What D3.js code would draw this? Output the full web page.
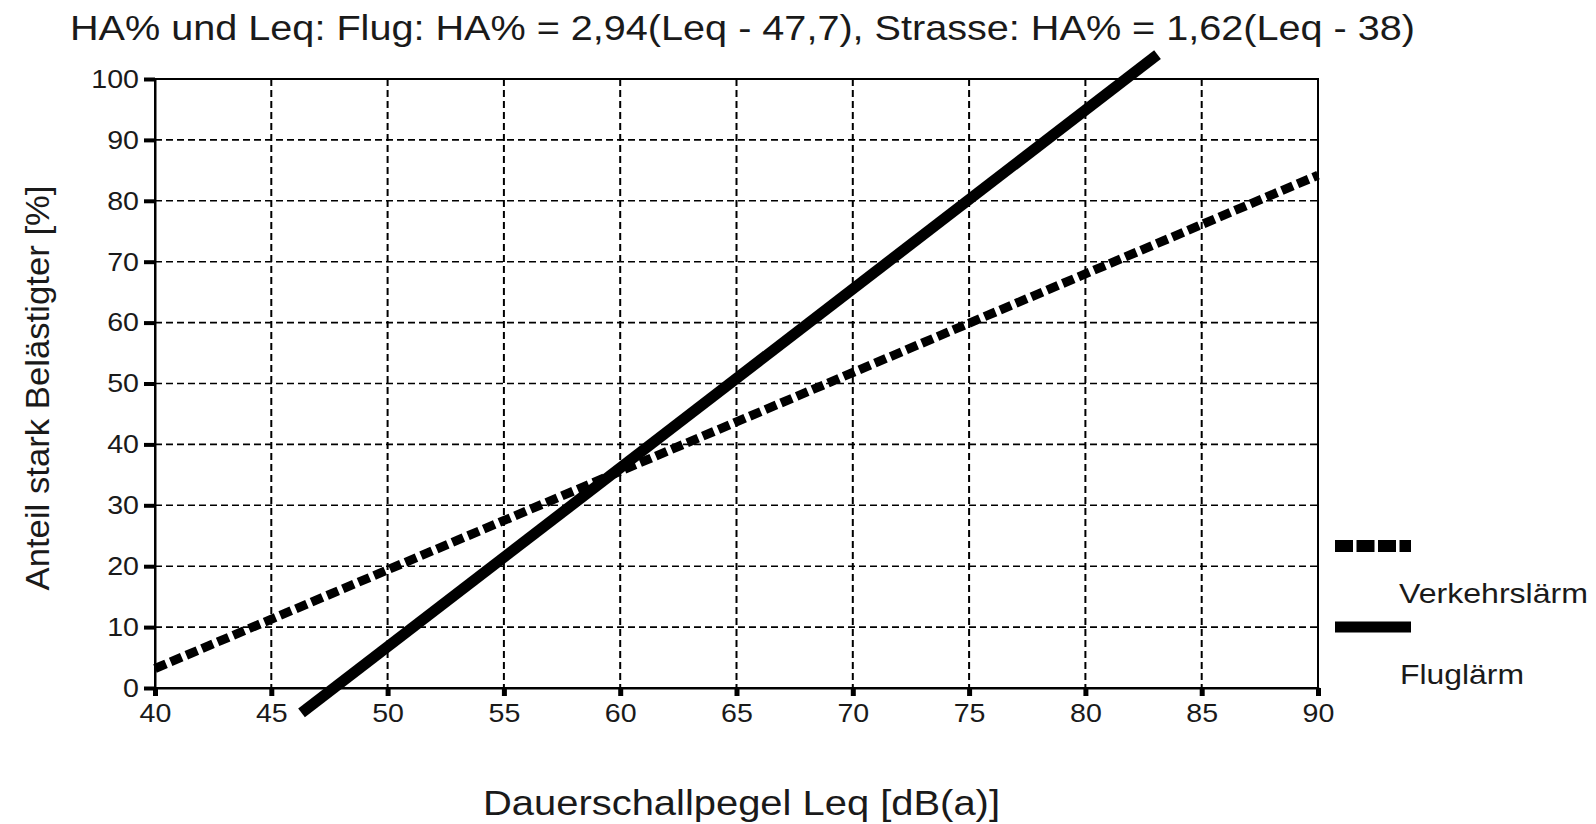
<!DOCTYPE html>
<html><head><meta charset="utf-8">
<script src="https://cdn.jsdelivr.net/npm/d3@7"></script>
<style>
html,body{margin:0;padding:0;background:#fff;}
text{font-family:"Liberation Sans",Arial,sans-serif;fill:#1a1a1a;}
</style></head>
<body><svg id="c" width="1596" height="824"></svg>
<script>
// ---- data ----
const titleText = "HA% und Leq: Flug: HA% = 2,94(Leq - 47,7), Strasse: HA% = 1,62(Leq - 38)";
const xLabel = "Dauerschallpegel Leq [dB(a)]";
const yLabel = "Anteil stark Belästigter [%]";
const xTicks = [40,45,50,55,60,65,70,75,80,85,90];
const yTicks = [0,10,20,30,40,50,60,70,80,90,100];
const seriesNames = ["Verkehrslärm","Fluglärm"];
const roadLeq = [40, 90];
const roadHA = [3.2, 84.2];
const flightLeq = [46.3, 83.1];
const flightHA = [-4.1, 104.0];

const svg = d3.select("#c");
const pL=155, pR=1318, pT=79, pB=688;
const x = d3.scaleLinear().domain([40,90]).range([pL,pR]);
const y = d3.scaleLinear().domain([0,100]).range([pB,pT]);
const STRETCH = 1.1;
function stretch(sel, f){ sel.each(function(){ const w=this.getComputedTextLength(); d3.select(this).attr("textLength", w*f).attr("lengthAdjust","spacingAndGlyphs"); }); }

// grid
svg.append("g").selectAll("line").data(xTicks.filter(d=>d>40&&d<90)).join("line")
  .attr("x1",d=>x(d)).attr("x2",d=>x(d)).attr("y1",pT).attr("y2",pB)
  .attr("stroke","#000").attr("stroke-width",2).attr("stroke-dasharray","7,4");
svg.append("g").selectAll("line").data(yTicks.filter(d=>d>0&&d<100)).join("line")
  .attr("x1",pL).attr("x2",pR).attr("y1",d=>y(d)).attr("y2",d=>y(d))
  .attr("stroke","#000").attr("stroke-width",1.6).attr("stroke-dasharray","7,4");

// frame
svg.append("rect").attr("x",pL).attr("y",pT).attr("width",pR-pL).attr("height",pB-pT)
  .attr("fill","none").attr("stroke","#000").attr("stroke-width",2);

// axes
const xAxis = svg.append("g").attr("transform",`translate(0,${pB})`)
  .call(d3.axisBottom(x).tickValues(xTicks).tickSize(8).tickPadding(8).tickFormat(d3.format("d")));
xAxis.select(".domain").attr("stroke","#000").attr("stroke-width",2);
xAxis.selectAll(".tick line").attr("stroke","#000").attr("stroke-width",5);
xAxis.selectAll(".tick text").attr("font-size",26).attr("font-family","Liberation Sans, Arial, sans-serif").attr("fill","#1a1a1a").call(stretch,STRETCH);

const yAxis = svg.append("g").attr("transform",`translate(${pL},0)`)
  .call(d3.axisLeft(y).tickValues(yTicks).tickSize(11).tickPadding(5).tickFormat(d3.format("d")));
yAxis.select(".domain").attr("stroke","#000").attr("stroke-width",2);
yAxis.selectAll(".tick line").attr("stroke","#000").attr("stroke-width",4);
yAxis.selectAll(".tick text").attr("font-size",26).attr("font-family","Liberation Sans, Arial, sans-serif").attr("fill","#1a1a1a").call(stretch,STRETCH);

// series
const line = d3.line().x(d=>x(d[0])).y(d=>y(d[1]));
svg.append("path").datum(roadLeq.map((v,i)=>[v,roadHA[i]]))
  .attr("d",line).attr("fill","none").attr("stroke","#000").attr("stroke-width",9)
  .attr("stroke-dasharray","12,5");
svg.append("path").datum(flightLeq.map((v,i)=>[v,flightHA[i]]))
  .attr("d",line).attr("fill","none").attr("stroke","#000").attr("stroke-width",11);

// legend
const lg = svg.append("g");
lg.append("line").attr("x1",1335).attr("x2",1411).attr("y1",546).attr("y2",546)
  .attr("stroke","#000").attr("stroke-width",12).attr("stroke-dasharray","18,3.5");
lg.append("line").attr("x1",1335).attr("x2",1411).attr("y1",627).attr("y2",627)
  .attr("stroke","#000").attr("stroke-width",11);
lg.append("text").attr("x",1399).attr("y",603).attr("font-size",28).attr("textLength",189).attr("lengthAdjust","spacingAndGlyphs").text(seriesNames[0]);
lg.append("text").attr("x",1400).attr("y",684).attr("font-size",28).attr("textLength",124).attr("lengthAdjust","spacingAndGlyphs").text(seriesNames[1]);

// titles
svg.append("text").attr("x",70).attr("y",40).attr("font-size",35)
  .attr("textLength",1345).attr("lengthAdjust","spacingAndGlyphs").text(titleText);
svg.append("text").attr("x",483).attr("y",815).attr("font-size",35)
  .attr("textLength",517).attr("lengthAdjust","spacingAndGlyphs").text(xLabel);
svg.append("text").attr("transform","translate(49,388) rotate(-90)").attr("text-anchor","middle")
  .attr("font-size",34).attr("textLength",405).attr("lengthAdjust","spacingAndGlyphs").text(yLabel);
</script></body></html>
